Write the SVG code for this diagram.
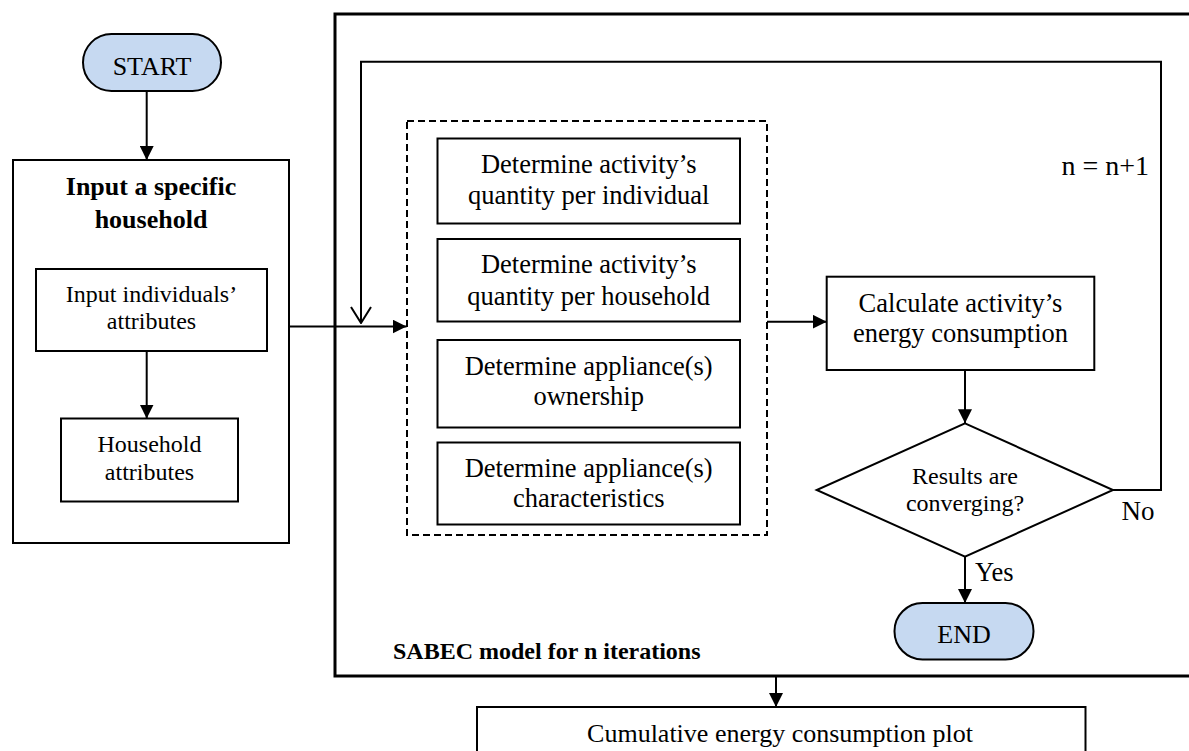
<svg xmlns="http://www.w3.org/2000/svg" width="1189" height="751" viewBox="0 0 1189 751">
<style>
.box{fill:#fff;stroke:#000;stroke-width:2}
.term{fill:#c6d9f1;stroke:#000;stroke-width:2}
.t{font-family:"Liberation Serif","Times New Roman",serif;fill:#000;text-anchor:middle}
.b{font-weight:bold}
.c{fill:none;stroke:#000;stroke-width:2}
</style>
<defs>
<marker id="ah" markerUnits="userSpaceOnUse" markerWidth="16" markerHeight="14" refX="14" refY="7" orient="auto">
<path d="M0,0 L14,7 L0,14 Z" fill="#000"/>
</marker>
<marker id="oh" markerUnits="userSpaceOnUse" markerWidth="18" markerHeight="24" refX="17" refY="12" orient="auto">
<path d="M1,2 L17,12 L1,22" fill="none" stroke="#000" stroke-width="2"/>
</marker>
</defs>

<g id="sabec-frame">
<rect x="335" y="14" width="900" height="662" fill="none" stroke="#000" stroke-width="3"/>
<text class="t b" x="393" y="659" font-size="24" style="text-anchor:start">SABEC model for n iterations</text>
</g>

<g id="start">
<rect class="term" x="83" y="34" width="138" height="57" rx="28.5"/>
<text class="t" x="152" y="75" font-size="26">START</text>
</g>

<g id="input-household">
<rect class="box" x="13" y="160" width="276" height="383"/>
<text class="t b" x="151" y="195" font-size="26">Input a specific</text>
<text class="t b" x="151" y="227.5" font-size="26">household</text>
</g>

<g id="input-individuals">
<rect class="box" x="36" y="269" width="231" height="82"/>
<text class="t" x="151.5" y="301.5" font-size="24">Input individuals’</text>
<text class="t" x="151.5" y="329" font-size="24">attributes</text>
</g>

<g id="household-attributes">
<rect class="box" x="61" y="418.5" width="177" height="83"/>
<text class="t" x="149.5" y="451.5" font-size="24">Household</text>
<text class="t" x="149.5" y="479.5" font-size="24">attributes</text>
</g>

<g id="determine-group">
<rect x="407" y="121" width="360" height="414" fill="none" stroke="#000" stroke-width="2" stroke-dasharray="7 4"/>
</g>

<g id="det-ind">
<rect class="box" x="437.5" y="138.5" width="302.5" height="85"/>
<text class="t" x="588.7" y="173.3" font-size="26.5">Determine activity’s</text>
<text class="t" x="588.7" y="204" font-size="26.5">quantity per individual</text>
</g>

<g id="det-hh">
<rect class="box" x="437.5" y="239" width="302.5" height="82.5"/>
<text class="t" x="588.7" y="273.3" font-size="26.5">Determine activity’s</text>
<text class="t" x="588.7" y="305" font-size="26.5">quantity per household</text>
</g>

<g id="det-own">
<rect class="box" x="437.5" y="340" width="302.5" height="87.5"/>
<text class="t" x="588.7" y="375" font-size="26.5">Determine appliance(s)</text>
<text class="t" x="588.7" y="405" font-size="26.5">ownership</text>
</g>

<g id="det-char">
<rect class="box" x="437.5" y="442.5" width="302.5" height="82"/>
<text class="t" x="588.7" y="476.7" font-size="26.5">Determine appliance(s)</text>
<text class="t" x="588.7" y="506.7" font-size="26.5">characteristics</text>
</g>

<g id="calculate">
<rect class="box" x="826.7" y="276.7" width="267.6" height="93.3"/>
<text class="t" x="960.5" y="311.7" font-size="26.5">Calculate activity’s</text>
<text class="t" x="960.5" y="341.7" font-size="26.5">energy consumption</text>
</g>

<g id="decision">
<polygon class="box" points="965,423.3 1113,490 965,556.7 816.7,490"/>
<text class="t" x="965" y="484" font-size="24">Results are</text>
<text class="t" x="965" y="510.5" font-size="24">converging?</text>
</g>

<g id="end">
<rect class="term" x="894.5" y="603" width="139" height="56.5" rx="28"/>
<text class="t" x="964" y="642.7" font-size="26">END</text>
</g>

<g id="plot">
<rect class="box" x="477" y="707" width="608.5" height="60"/>
<text class="t" x="780" y="741.5" font-size="26">Cumulative energy consumption plot</text>
</g>

<g id="labels">
<text class="t" x="1061.5" y="175" font-size="28" style="text-anchor:start">n = n+1</text>
<text class="t" x="975" y="580.7" font-size="26.5" style="text-anchor:start">Yes</text>
<text class="t" x="1121.5" y="520" font-size="27" style="text-anchor:start">No</text>
</g>

<g id="connectors">
<line class="c" x1="146.7" y1="91" x2="146.7" y2="160" marker-end="url(#ah)"/>
<line class="c" x1="146.7" y1="351" x2="146.7" y2="418.5" marker-end="url(#ah)"/>
<line class="c" x1="289" y1="326.5" x2="406.5" y2="326.5" marker-end="url(#ah)"/>
<path class="c" d="M1113,490 H1161 V61.7 H361 V323" marker-end="url(#oh)"/>
<line class="c" x1="767" y1="321.7" x2="826.7" y2="321.7" marker-end="url(#ah)"/>
<line class="c" x1="965" y1="370" x2="965" y2="423.3" marker-end="url(#ah)"/>
<line class="c" x1="965" y1="556.7" x2="965" y2="603" marker-end="url(#ah)"/>
<line class="c" x1="776" y1="676" x2="776" y2="707" marker-end="url(#ah)"/>
</g>
</svg>
